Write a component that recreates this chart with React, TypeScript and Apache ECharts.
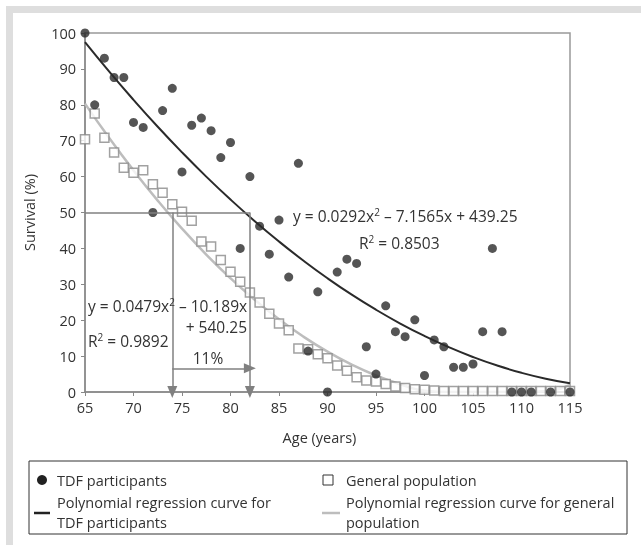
import React, { useEffect, useRef } from "react";
import * as echarts from "echarts";

// TDF participants (age, survival %)
const tdfAges = [65, 66, 67, 68, 69, 70, 71, 72, 73, 74, 75, 76, 77, 78, 79, 80, 81, 82, 83, 84, 85, 86, 87, 88, 89, 90, 91, 92, 93, 94, 95, 96, 97, 98, 99, 100, 101, 102, 103, 104, 105, 106, 107, 108, 109, 110, 111, 113, 115];
const tdfSurvival = [100, 80, 93, 87.6, 87.6, 75.1, 73.7, 50, 78.4, 84.6, 61.3, 74.3, 76.3, 72.8, 65.3, 69.5, 40, 60, 46.2, 38.4, 47.9, 32, 63.7, 11.4, 27.9, 0, 33.4, 37, 35.8, 12.6, 5, 24, 16.8, 15.4, 20.1, 4.6, 14.5, 12.6, 6.9, 6.9, 7.8, 16.8, 40, 16.8, 0, 0, 0, 0, 0];

// General population (age, survival %)
const genAges = [65, 66, 67, 68, 69, 70, 71, 72, 73, 74, 75, 76, 77, 78, 79, 80, 81, 82, 83, 84, 85, 86, 87, 88, 89, 90, 91, 92, 93, 94, 95, 96, 97, 98, 99, 100, 101, 102, 103, 104, 105, 106, 107, 108, 109, 110, 111, 112, 113, 114, 115];
const genSurvival = [70.4, 77.6, 70.8, 66.7, 62.5, 61.1, 61.8, 57.9, 55.5, 52.3, 50.2, 47.7, 41.9, 40.5, 36.8, 33.5, 30.7, 27.7, 24.9, 21.8, 19.1, 17.2, 12.1, 11.9, 10.5, 9.4, 7.4, 5.9, 4.1, 3.2, 2.9, 2.2, 1.5, 1.1, 0.8, 0.6, 0.4, 0.3, 0.3, 0.3, 0.3, 0.3, 0.3, 0.3, 0.3, 0.3, 0.3, 0.3, 0.3, 0.3, 0.3];

// Regression curves
const curveAges = [65, 67.5, 70, 72.5, 75, 77.5, 80, 82.5, 85, 87.5, 90, 92.5, 95, 97.5, 100, 102.5, 105, 107.5, 110, 112.5, 115];
const tdfCurve = [97.45, 89.23, 81.38, 73.88, 66.76, 60.0, 53.61, 47.58, 41.92, 36.62, 31.68, 27.11, 22.91, 19.07, 15.6, 12.49, 9.75, 7.37, 5.35, 3.7, 2.42];
const genCurve = [80.34, 70.73, 61.73, 53.32, 45.51, 38.3, 31.69, 25.68, 20.26, 15.44, 11.23, 7.61, 4.59, 2.17, 0.35, 0, 0, 0, 0, 0.22, 1.99];

const xTicks = { min: 65, max: 115, interval: 5 };
const yTicks = { min: 0, max: 100, interval: 10 };

// Annotation guide values
const halfSurvival = 50;
const tdfMedianAge = 82;
const genMedianAge = 74;
const arrowLevel = 6.6;

const FONT = "'Open Sans', sans-serif";
const TXT = "#333";
const EQ = 15.5;

const eqRich = {
  a: { fontSize: EQ, fill: TXT, fontFamily: FONT },
  s: { fontSize: 10, fill: TXT, fontFamily: FONT, padding: [0, 0, 9, 0] },
};

export default function App() {
  const ref = useRef<HTMLDivElement>(null);
  useEffect(() => {
    if (!ref.current) return;
    const chart = echarts.init(ref.current, undefined, { renderer: "svg" });
    const pairs = (xs: number[], ys: number[]) => xs.map((x, i) => [x, ys[i]]);
    const guide = { color: "#808080", width: 1.5, type: "solid" as const };
    const arrow = { symbol: "triangle", symbolSize: [10, 12] };
    chart.setOption({
      animation: false,
      textStyle: { fontFamily: FONT },
      grid: {
        left: 85,
        right: 71,
        top: 33,
        bottom: 153,
        show: true,
        borderColor: "#999",
        borderWidth: 1.5,
        backgroundColor: "transparent",
      },
      xAxis: {
        type: "value",
        min: xTicks.min,
        max: xTicks.max,
        interval: xTicks.interval,
        name: "Age (years)",
        nameLocation: "middle",
        nameGap: 38,
        nameTextStyle: { color: TXT, fontSize: 14.5, fontFamily: FONT, padding: [0, 16, 0, 0] },
        axisLine: { lineStyle: { color: "#888", width: 1.5 } },
        axisTick: { show: true, length: 4, lineStyle: { color: "#888" } },
        axisLabel: { color: TXT, fontSize: 14.5, margin: 8, fontFamily: FONT },
        splitLine: { show: false },
      },
      yAxis: {
        type: "value",
        min: yTicks.min,
        max: yTicks.max,
        interval: yTicks.interval,
        name: "Survival (%)",
        nameLocation: "middle",
        nameGap: 48,
        nameTextStyle: { color: TXT, fontSize: 14.5, fontFamily: FONT },
        axisLine: { show: true, lineStyle: { color: "#888", width: 1.5 } },
        axisTick: { show: true, length: 4, lineStyle: { color: "#888" } },
        axisLabel: { color: TXT, fontSize: 14.5, margin: 9, fontFamily: FONT },
        splitLine: { show: false },
      },
      series: [
        {
          name: "Polynomial regression curve for general population",
          type: "line",
          data: pairs(curveAges, genCurve),
          smooth: true,
          symbol: "none",
          lineStyle: { color: "#bdbdbd", width: 2.5 },
          z: 2,
        },
        {
          name: "Polynomial regression curve for TDF participants",
          type: "line",
          data: pairs(curveAges, tdfCurve),
          smooth: true,
          symbol: "none",
          lineStyle: { color: "#2a2a2a", width: 2 },
          z: 2,
          markLine: {
            silent: true,
            symbol: ["none", "none"],
            label: { show: false },
            lineStyle: guide,
            itemStyle: { color: "#555" },
            data: [
              [
                { coord: [xTicks.min, halfSurvival], symbol: "none" },
                { coord: [tdfMedianAge, halfSurvival], symbol: "none" },
              ],
              [
                { coord: [genMedianAge, halfSurvival], symbol: "none" },
                { coord: [genMedianAge, 0], ...arrow },
              ],
              [
                { coord: [tdfMedianAge, halfSurvival], symbol: "none" },
                { coord: [tdfMedianAge, 0], ...arrow },
              ],
              [
                { coord: [genMedianAge, arrowLevel], symbol: "none" },
                { coord: [tdfMedianAge, arrowLevel], ...arrow },
              ],
            ],
          },
        },
        {
          name: "General population",
          type: "scatter",
          data: pairs(genAges, genSurvival),
          symbol: "rect",
          symbolSize: 9,
          itemStyle: { color: "#fff", borderColor: "#8a8a8a", borderWidth: 1.5 },
          z: 3,
        },
        {
          name: "TDF participants",
          type: "scatter",
          data: pairs(tdfAges, tdfSurvival),
          symbol: "circle",
          symbolSize: 9,
          itemStyle: { color: "#2b2b2b" },
          z: 4,
        },
      ],
      graphic: [
        { type: "rect", shape: { x: 6, y: 6, width: 635, height: 7 }, style: { fill: "#dedede" }, silent: true },
        { type: "rect", shape: { x: 6, y: 6, width: 7, height: 539 }, style: { fill: "#dedede" }, silent: true },
        {
          type: "text",
          x: 293,
          y: 216,
          style: {
            text: "{a|y = 0.0292x}{s|2}{a| – 7.1565x + 439.25}",
            verticalAlign: "middle",
            rich: eqRich,
          },
          z: 10,
        },
        {
          type: "text",
          x: 359,
          y: 243,
          style: { text: "{a|R}{s|2}{a| = 0.8503}", verticalAlign: "middle", rich: eqRich },
          z: 10,
        },
        {
          type: "text",
          x: 88,
          y: 306,
          style: {
            text: "{a|y = 0.0479x}{s|2}{a| – 10.189x}",
            verticalAlign: "middle",
            rich: eqRich,
          },
          z: 10,
        },
        {
          type: "text",
          x: 247,
          y: 327,
          style: { text: "+ 540.25", align: "right", verticalAlign: "middle", fontSize: EQ, fill: TXT, fontFamily: FONT },
          z: 10,
        },
        {
          type: "text",
          x: 88,
          y: 341,
          style: { text: "{a|R}{s|2}{a| = 0.9892}", verticalAlign: "middle", rich: eqRich },
          z: 10,
        },
        {
          type: "text",
          x: 208,
          y: 358,
          style: { text: "11%", align: "center", verticalAlign: "middle", fontSize: EQ, fill: TXT, fontFamily: FONT },
          z: 10,
        },
        // legend
        { type: "rect", shape: { x: 29, y: 461, width: 598, height: 73 }, style: { fill: "none", stroke: "#333", lineWidth: 1 } },
        { type: "circle", shape: { cx: 42, cy: 480, r: 5 }, style: { fill: "#222" } },
        {
          type: "text",
          x: 57,
          y: 480,
          style: { text: "TDF participants", verticalAlign: "middle", fontSize: 14.5, fill: TXT, fontFamily: FONT },
        },
        { type: "line", shape: { x1: 34, y1: 513, x2: 50, y2: 513 }, style: { stroke: "#222", lineWidth: 2.5 } },
        {
          type: "text",
          x: 57,
          y: 512,
          style: {
            text: "Polynomial regression curve for\nTDF participants",
            verticalAlign: "middle",
            lineHeight: 20,
            fontSize: 14.5,
            fill: TXT,
            fontFamily: FONT,
          },
        },
        { type: "rect", shape: { x: 323, y: 475, width: 10, height: 10 }, style: { fill: "#fff", stroke: "#333", lineWidth: 1 } },
        {
          type: "text",
          x: 346,
          y: 480,
          style: { text: "General population", verticalAlign: "middle", fontSize: 14.5, fill: TXT, fontFamily: FONT },
        },
        { type: "line", shape: { x1: 322, y1: 513, x2: 340, y2: 513 }, style: { stroke: "#bdbdbd", lineWidth: 2.5 } },
        {
          type: "text",
          x: 346,
          y: 512,
          style: {
            text: "Polynomial regression curve for general\npopulation",
            verticalAlign: "middle",
            lineHeight: 20,
            fontSize: 14.5,
            fill: TXT,
            fontFamily: FONT,
          },
        },
      ],
    });
    return () => chart.dispose();
  }, []);
  return <div ref={ref} style={{ position: "fixed", left: 0, top: 0, width: 641, height: 545 }} />;
}
